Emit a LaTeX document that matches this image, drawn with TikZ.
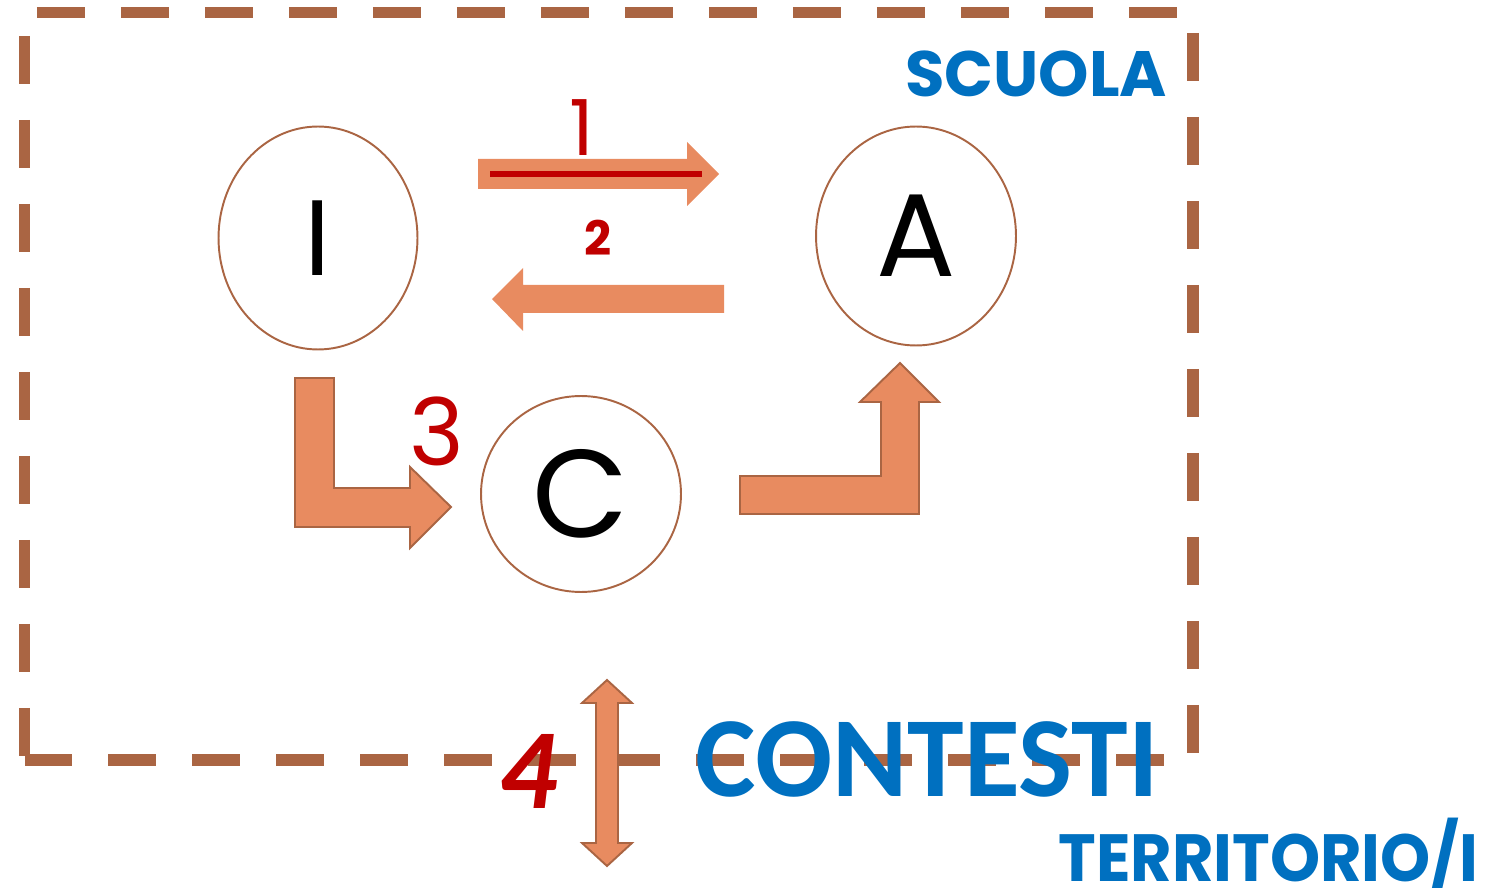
\documentclass[tikz,border=0pt]{standalone}
\usepackage{fontspec}
\usepackage{xcolor}
\usepackage{tikz}
\usetikzlibrary{positioning,shapes.geometric}
\newfontfamily\geo{Poppins}
\newfontfamily\carl{Carlito}
\definecolor{blu}{RGB}{0,112,192}
\definecolor{ros}{RGB}{192,0,0}
\definecolor{ora}{RGB}{232,139,96}
\definecolor{brn}{RGB}{170,101,67}

\begin{document}
\begin{tikzpicture}[
  x=0.02cm,y=-0.02cm,
  nd/.style={ellipse,draw=brn,line width=1.1pt,fill=white,inner sep=0pt,font=\geo},
  blk/.style={fill=ora},
  blkb/.style={fill=ora,draw=brn,line width=1.1pt},
  fr/.style={draw=brn,line width=6.5pt,dash pattern=on 0.96cm off 0.72cm},
  num/.style={text=ros,inner sep=0pt,anchor=base},
  tit/.style={text=blu,inner sep=0pt}
]
\useasboundingbox (0,0) rectangle (1504,888);

% dashed frame
\coordinate (tl) at (24.5,12.5);
\coordinate (tr) at (1193,12.5);
\coordinate (bl) at (24.5,760);
\coordinate (br) at (1193,760);
\draw[fr,dash phase=1.43cm] (tl) -- (tr);
\draw[fr,dash phase=1.21cm] (tl) -- (bl);
\draw[fr,dash phase=1.27cm] (tr) -- (br);
\draw[fr] (bl) -- (br);

% I, A, C
\node[nd,minimum width=3.98cm,minimum height=4.46cm] (I) at (318,238) {\fontsize{61}{61}\selectfont I};
\node[nd,minimum width=4cm,minimum height=4.38cm] (A) at (916,236) {\fontsize{67}{67}\selectfont A};
\node[nd,minimum width=4cm,minimum height=3.92cm] (C) at (581,494) {\fontsize{71}{71}\selectfont C};

% arrows
\fill[blk] (478,159) -- (687,159) -- (687,142) -- (719,174) -- (687,206) -- (687,189) -- (478,189) -- cycle;
\draw[ros,line width=3.4pt] (490,174) -- (702,174);
\fill[blk] (724,285) -- (523,285) -- (523,268) -- (492,299) -- (523,331) -- (523,313) -- (724,313) -- cycle;
\filldraw[blkb] (295,378) -- (334,378) -- (334,488) -- (410,488) -- (410,467) -- (451,507)
  -- (410,548) -- (410,527) -- (295,527) -- cycle;
\filldraw[blkb] (740,476) -- (881,476) -- (881,402) -- (860,402) -- (900,363) -- (939,402)
  -- (919,402) -- (919,514) -- (740,514) -- cycle;
\filldraw[blkb] (596,703) -- (582,703) -- (607,680) -- (632,703) -- (618,703) -- (618,843)
  -- (632,843) -- (607,866) -- (582,843) -- (596,843) -- cycle;

% numbers
\node[num,font=\geo\fontsize{44}{44}\selectfont] (n1) at (582,156) {1};
\node[num,font=\geo\bfseries\fontsize{27}{27}\selectfont] (n2) at (598,256) {2};
\node[num,font=\geo\fontsize{53}{53}\selectfont] (n3) at (437,465) {3};
\node[num,font=\carl\bfseries\itshape\fontsize{65}{65}\selectfont] (n4) at (528,808) {4};

% labels
\node[tit,anchor=base,font=\geo\bfseries\fontsize{36.5}{36.5}\selectfont] (scuola) at (1036,97) {SCUOLA};
\node[tit,anchor=base,font=\carl\bfseries\fontsize{65}{65}\selectfont] (contesti) at (927,796) {CONTESTI};
\node[tit,anchor=base west,xscale=0.955,font=\geo\bfseries\fontsize{38}{38}\selectfont] (terr) at (1058,881) {TERRITORIO/I};
\end{tikzpicture}
\end{document}
